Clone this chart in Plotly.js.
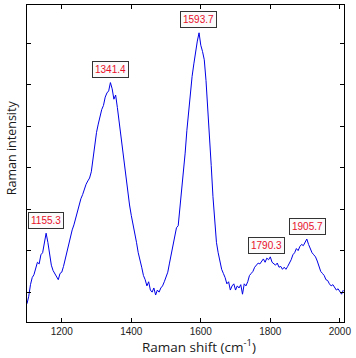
<!DOCTYPE html>
<html><head><meta charset="utf-8">
<script src="https://cdn.plot.ly/plotly-3.0.1.min.js"></script>
<style>html,body{margin:0;padding:0;background:#fff}#c{width:356px;height:358px}</style>
</head><body><div id="c"></div>
<script>
const shift = [];
for (let s = 1100; s <= 2010; s += 5) shift.push(s);
const intensity = [
 720,900,1180,1350,1420,1560,1720,1680,1900,1950,2150,2420,2200,1900,1650,1520,1450,1380,1300,1450,
 1480,1620,1800,1950,2150,2380,2500,2620,2780,2950,3100,3250,3350,3480,3600,3680,3750,3900,4250,4500,
 4850,5050,5250,5400,5500,5700,5800,5850,6050,5900,5650,5750,5450,5100,4800,4500,4100,3800,3400,3100,
 2850,2650,2450,2200,1950,1800,1600,1400,1300,1150,1250,1050,1000,1100,930,1050,1000,1100,1150,1250,
 1350,1480,1700,1900,2100,2350,2550,2600,3000,3450,3850,4350,4900,5350,5800,6200,6500,6800,7050,7250,
 6950,6800,6600,6100,5500,4800,4050,3300,2700,2200,1950,1750,1550,1450,1350,1200,1250,1050,1150,1200,
 1050,1150,1100,1180,950,1200,1150,1250,1400,1450,1500,1600,1650,1700,1680,1750,1800,1720,1820,1780,
 1850,1720,1680,1650,1700,1600,1620,1550,1600,1550,1620,1700,1780,1900,1950,2050,2000,2100,2150,2120,
 2200,2280,2150,2050,1950,1900,1850,1750,1600,1500,1450,1400,1300,1280,1200,1150,1180,1100,1050,1080,
 1000,950,1050
];
const peakX = [1155.3, 1341.4, 1593.7, 1790.3, 1905.7];
const peakY = [2420, 6050, 7250, 1820, 2280];
const peakLabels = ["1155.3", "1341.4", "1593.7", "1790.3", "1905.7"];
const xTicks = [1200, 1400, 1600, 1800, 2000];
const xTitle = 'Raman shift (cm<sup>-1</sup>)';
const yTitle = 'Raman intensity';

const annotations = peakX.map((x, i) => ({
  x: x, y: peakY[i], xref: 'x', yref: 'y', text: peakLabels[i], showarrow: false,
  yshift: 13, font: {family: 'Liberation Sans, Arial', size: 10, color: '#e8102a'},
  bgcolor: '#fbfbfb', bordercolor: '#333', borderwidth: 1, borderpad: 2
}));
annotations.push({
  xref: 'paper', yref: 'paper', x: (199.5 - 27) / 317, y: (322 - 346) / 317.3,
  xanchor: 'center', yanchor: 'middle', showarrow: false, text: xTitle,
  font: {family: 'Open Sans', size: 13.5, color: '#1a1a1a'}
});
annotations.push({
  xref: 'paper', yref: 'paper', x: (11 - 27) / 317, y: (322 - 148) / 317.3,
  xanchor: 'center', yanchor: 'middle', showarrow: false, text: yTitle, textangle: -90,
  font: {family: 'Open Sans', size: 12.5, color: '#1a1a1a'}
});

Plotly.newPlot('c', [{
  x: shift, y: intensity, type: 'scatter', mode: 'lines',
  line: {color: '#0000e6', width: 1}
}], {
  width: 356, height: 358,
  margin: {l: 27, r: 12, t: 5, b: 36},
  paper_bgcolor: '#fff', plot_bgcolor: '#fff',
  showlegend: false,
  annotations: annotations,
  xaxis: {
    range: [1100, 2012], tickvals: xTicks, ticks: 'inside', ticklen: 4, tickcolor: '#000',
    showline: true, linecolor: '#000', linewidth: 1, mirror: 'ticks', showgrid: false, zeroline: false,
    tickfont: {family: 'Liberation Sans, Arial', size: 10, color: '#222'}
  },
  yaxis: {
    range: [280, 7920], dtick: 1000, tick0: 0, ticks: 'inside', ticklen: 4, tickcolor: '#000',
    showticklabels: false,
    showline: true, linecolor: '#000', linewidth: 1, mirror: 'ticks', showgrid: false, zeroline: false
  }
}, {displayModeBar: false, staticPlot: true});
</script></body></html>
